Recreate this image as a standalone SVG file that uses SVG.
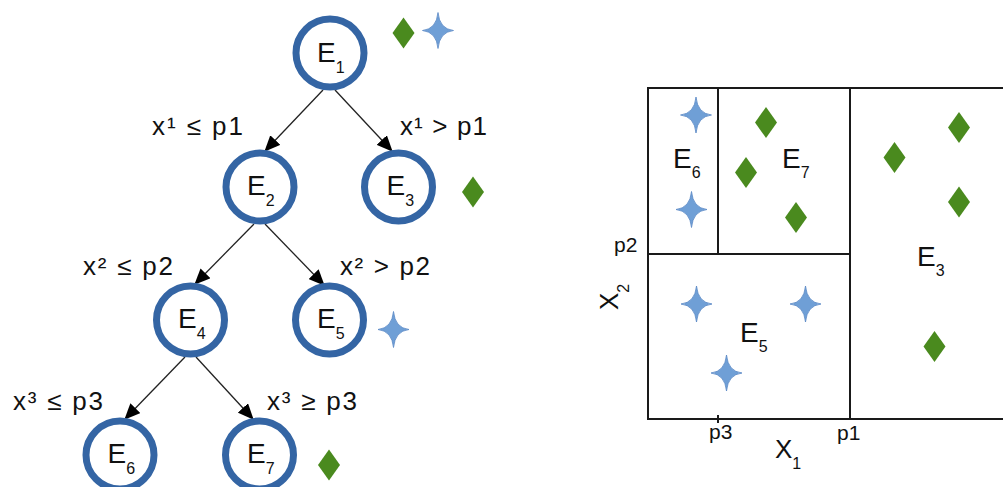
<svg xmlns="http://www.w3.org/2000/svg" width="1003" height="487" viewBox="0 0 1003 487">
<style>
.node{fill:#fff;stroke:#3465a4;stroke-width:7}
.lbl{font-family:"Liberation Sans",Arial,sans-serif;fill:#111}
.e{font-size:28px}
.sub{font-size:16px}
.cond{font-size:26px}
.p{font-size:21px}
.edge{stroke:#222;stroke-width:1.3;fill:none}
.ax{stroke:#1a1a1a;stroke-width:2;fill:none}
.dia{fill:#4a8a1e}
.star{fill:#6f9fd6;stroke:#5585c4;stroke-width:0.8}
</style>
<defs>
<marker id="ah" markerUnits="userSpaceOnUse" markerWidth="16" markerHeight="14" refX="15" refY="7" orient="auto">
<path d="M0,0 L16,7 L0,14 Z" fill="#000"/>
</marker>
<path id="dm" d="M0,-15.5 L11,0 L0,15.5 L-11,0 Z"/>
<path id="st" d="M0,-18 Q1.5,-1.5 15.5,0 Q1.5,1.5 0,18 Q-1.5,1.5 -15.5,0 Q-1.5,-1.5 0,-18 Z"/>
</defs>
<rect width="1003" height="487" fill="#fff"/>

<g id="connectors">
<line class="edge" x1="323" y1="90" x2="265" y2="151" marker-end="url(#ah)"/>
<line class="edge" x1="335" y1="90" x2="392" y2="151" marker-end="url(#ah)"/>
<line class="edge" x1="254" y1="224" x2="195" y2="284" marker-end="url(#ah)"/>
<line class="edge" x1="265" y1="224" x2="324" y2="285" marker-end="url(#ah)"/>
<line class="edge" x1="185" y1="357" x2="125" y2="419" marker-end="url(#ah)"/>
<line class="edge" x1="196" y1="357" x2="253" y2="419" marker-end="url(#ah)"/>
</g>

<g id="E1"><circle class="node" cx="330" cy="53" r="34"/><text class="lbl e" x="317" y="62">E<tspan class="sub" dy="11">1</tspan></text></g>
<g id="E2"><circle class="node" cx="260" cy="187" r="34"/><text class="lbl e" x="247" y="195">E<tspan class="sub" dy="11">2</tspan></text></g>
<g id="E3"><circle class="node" cx="398.5" cy="187" r="34"/><text class="lbl e" x="386.5" y="195">E<tspan class="sub" dy="11">3</tspan></text></g>
<g id="E4"><circle class="node" cx="190.5" cy="320" r="34"/><text class="lbl e" x="178" y="328">E<tspan class="sub" dy="11">4</tspan></text></g>
<g id="E5"><circle class="node" cx="329.5" cy="320" r="34"/><text class="lbl e" x="317" y="328">E<tspan class="sub" dy="11">5</tspan></text></g>
<g id="E6"><circle class="node" cx="120" cy="455" r="34"/><text class="lbl e" x="107.5" y="463">E<tspan class="sub" dy="11">6</tspan></text></g>
<g id="E7"><circle class="node" cx="259.5" cy="455" r="34"/><text class="lbl e" x="247" y="463">E<tspan class="sub" dy="11">7</tspan></text></g>

<g id="conditions">
<text class="lbl cond" x="152" y="135" textLength="91" lengthAdjust="spacing">x¹ ≤ p1</text>
<text class="lbl cond" x="400" y="135" textLength="87" lengthAdjust="spacing">x¹ &gt; p1</text>
<text class="lbl cond" x="83" y="275" textLength="90" lengthAdjust="spacing">x² ≤ p2</text>
<text class="lbl cond" x="340" y="275" textLength="90" lengthAdjust="spacing">x² &gt; p2</text>
<text class="lbl cond" x="13" y="410" textLength="90" lengthAdjust="spacing">x³ ≤ p3</text>
<text class="lbl cond" x="267" y="410" textLength="90" lengthAdjust="spacing">x³ ≥ p3</text>
</g>

<g id="tree-markers">
<use href="#dm" class="dia" x="403.5" y="33"/>
<use href="#st" class="star" x="438" y="30.5"/>
<use href="#dm" class="dia" x="473" y="192"/>
<use href="#st" class="star" x="393.5" y="329.5"/>
<use href="#dm" class="dia" x="329" y="465"/>
</g>

<g id="partition">
<path class="ax" d="M1003,88 H648 V419 H1003"/>
<path class="ax" d="M850,88 V419"/>
<path class="ax" d="M648,254 H850"/>
<path class="ax" d="M718,88 V254"/>
<path class="ax" d="M718,415 V423"/>
<text class="lbl p" x="614" y="252">p2</text>
<text class="lbl p" x="709" y="439">p3</text>
<text class="lbl p" x="837" y="440">p1</text>
<text class="lbl" style="font-size:26px" x="775" y="458">X<tspan class="sub" dy="11">1</tspan></text>
<text class="lbl" style="font-size:26px" x="618" y="310" transform="rotate(-90 618 310)">X<tspan class="sub" dy="11">2</tspan></text>
<text class="lbl e" x="673" y="168">E<tspan class="sub" dy="10">6</tspan></text>
<text class="lbl e" x="782" y="168">E<tspan class="sub" dy="10">7</tspan></text>
<text class="lbl e" x="740" y="342">E<tspan class="sub" dy="10">5</tspan></text>
<text class="lbl e" x="917" y="266">E<tspan class="sub" dy="10">3</tspan></text>
<use href="#st" class="star" x="696" y="115"/>
<use href="#st" class="star" x="691.5" y="209.5"/>
<use href="#dm" class="dia" x="766" y="122.5"/>
<use href="#dm" class="dia" x="746" y="172.5"/>
<use href="#dm" class="dia" x="796" y="217.5"/>
<use href="#st" class="star" x="696.5" y="304"/>
<use href="#st" class="star" x="805.5" y="304"/>
<use href="#st" class="star" x="726.5" y="373"/>
<use href="#dm" class="dia" x="959" y="127.5"/>
<use href="#dm" class="dia" x="894.5" y="157.5"/>
<use href="#dm" class="dia" x="959" y="202"/>
<use href="#dm" class="dia" x="934.5" y="346.5"/>
</g>
</svg>
